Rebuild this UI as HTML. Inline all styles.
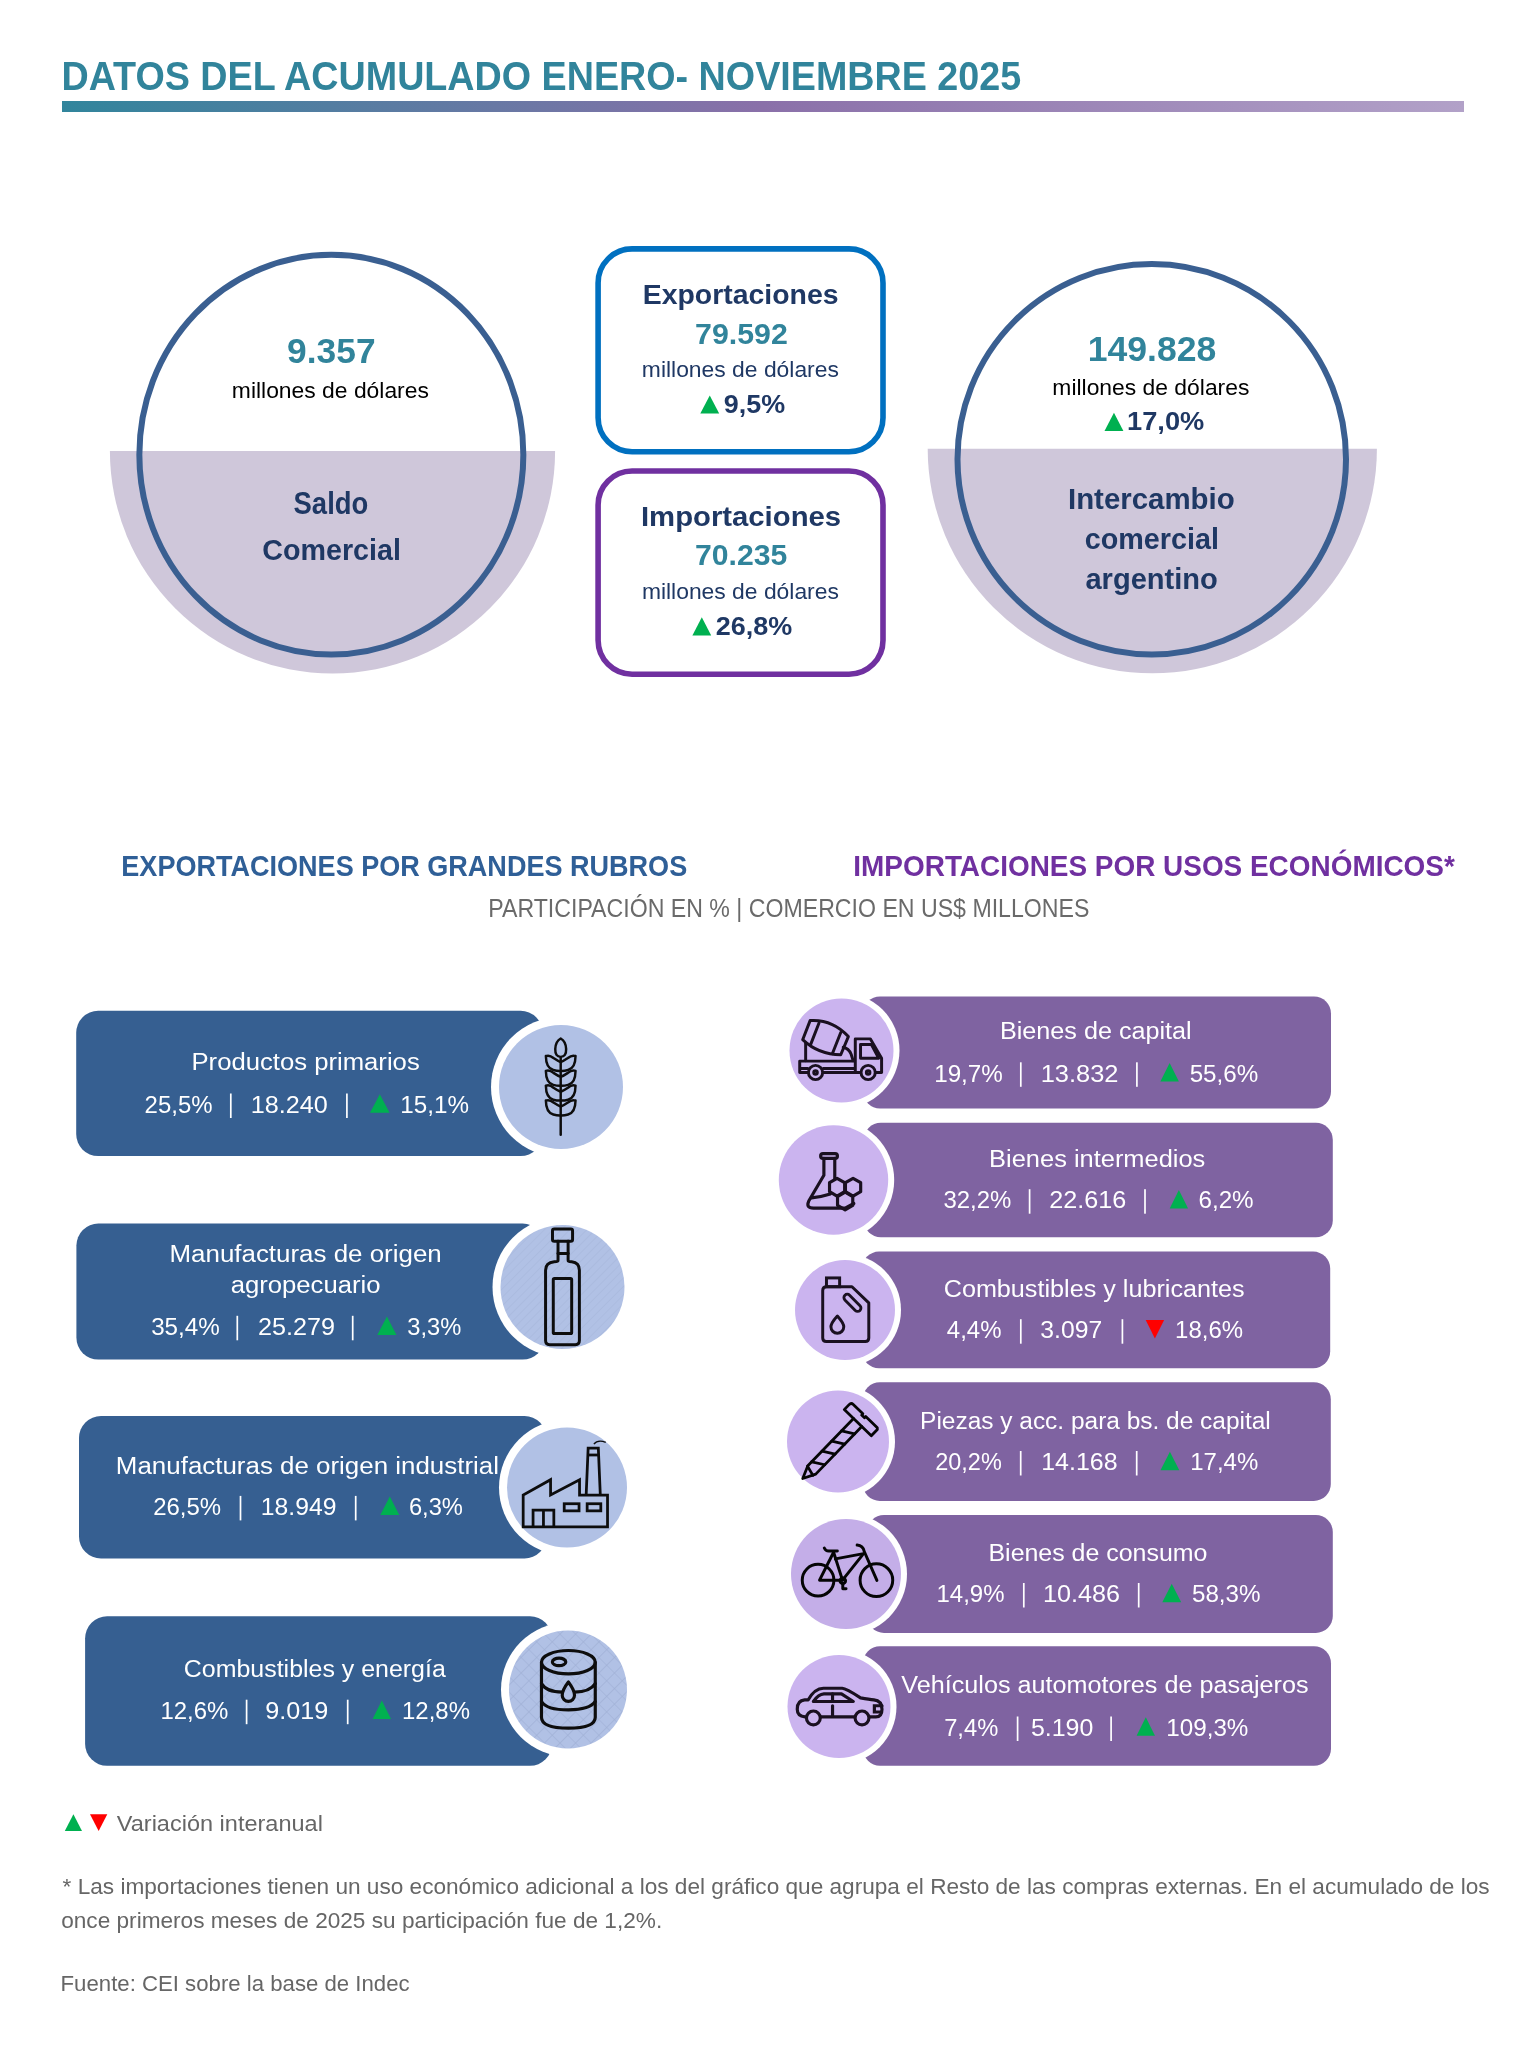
<!DOCTYPE html>
<html><head><meta charset="utf-8"><title>Datos del acumulado enero-noviembre 2025</title>
<style>
html,body{margin:0;padding:0;background:#fff;}
body{width:1517px;height:2046px;overflow:hidden;position:relative;}
svg{position:absolute;left:0;top:0;display:block;will-change:transform;}
text{font-family:"Liberation Sans",sans-serif;white-space:pre;}
</style></head><body>
<svg width="1517" height="2046" viewBox="0 0 1517 2046">
<defs>
<linearGradient id="bar" x1="0" x2="1" y1="0" y2="0">
<stop offset="0" stop-color="#31859C"/><stop offset="0.5" stop-color="#8A70A9"/><stop offset="1" stop-color="#B2A1C8"/>
</linearGradient>
<pattern id="xh" patternUnits="userSpaceOnUse" width="11" height="11" patternTransform="rotate(45)">
<rect width="11" height="11" fill="#B1C1E5"/><path d="M0 0H11M0 0V11" stroke="#9EAED3" stroke-width="1.2"/>
</pattern>
<pattern id="dh" patternUnits="userSpaceOnUse" width="6" height="6" patternTransform="rotate(-45)">
<rect width="6" height="6" fill="#B1C1E5"/><path d="M0 0H6" stroke="#A9B9DD" stroke-width="1.5"/>
</pattern>
</defs>
<rect x="62" y="101" width="1402" height="11" fill="url(#bar)"/>
<!-- left big circle -->
<path d="M109.9 451 A222.6 222.6 0 0 0 555.1 451 Z" fill="#CFC7DA"/>
<ellipse cx="331.35" cy="454.65" rx="192" ry="199.8" fill="none" stroke="#3A5F91" stroke-width="6"/>
<!-- right big circle -->
<path d="M927.7 448.8 A224.6 224.6 0 0 0 1376.9 448.8 Z" fill="#CFC7DA"/>
<ellipse cx="1151.75" cy="459.25" rx="194.25" ry="195.15" fill="none" stroke="#3A5F91" stroke-width="6"/>
<!-- export / import boxes -->
<rect x="598.1" y="248.9" width="284.9" height="202.9" rx="34" ry="34" fill="none" stroke="#0070C0" stroke-width="5.6"/>
<rect x="598.1" y="471" width="284.9" height="203.2" rx="34" ry="34" fill="none" stroke="#7030A0" stroke-width="5.6"/>
<!-- export rows -->
<g fill="#365F91">
<rect x="76.2" y="1010.8" width="466.4" height="145.3" rx="22"/>
<rect x="76.4" y="1223.6" width="468.2" height="136" rx="22"/>
<rect x="79" y="1416" width="467.5" height="142.5" rx="22"/>
<rect x="85.1" y="1616.3" width="466.9" height="149.5" rx="22"/>
</g>
<g fill="#FFFFFF">
<circle cx="561" cy="1087" r="70"/>
<circle cx="562.5" cy="1287" r="70"/>
<circle cx="567" cy="1487.5" r="68"/>
<circle cx="568" cy="1689.5" r="67"/>
</g>
<g fill="#B1C1E5">
<circle cx="561" cy="1087" r="62"/>
<circle cx="567" cy="1487.5" r="60"/>
</g>
<circle cx="568" cy="1689.5" r="59" fill="url(#xh)"/>
<circle cx="562.5" cy="1287" r="62" fill="url(#dh)"/>
<!-- import rows -->
<g fill="#7F63A1">
<rect x="863" y="996.4" width="468" height="112.2" rx="17"/>
<rect x="863.8" y="1122.8" width="469" height="114.4" rx="17"/>
<rect x="862" y="1251.6" width="468.2" height="116.6" rx="17"/>
<rect x="862.8" y="1382.2" width="468" height="118.7" rx="17"/>
<rect x="867" y="1514.9" width="465.8" height="118" rx="17"/>
<rect x="863" y="1646.3" width="468" height="119.5" rx="17"/>
</g>
<g fill="#FFFFFF">
<circle cx="841.5" cy="1050.5" r="58"/>
<circle cx="833.5" cy="1180" r="60.7"/>
<circle cx="845" cy="1310" r="56"/>
<circle cx="838" cy="1441.5" r="57"/>
<circle cx="846" cy="1574" r="61"/>
<circle cx="839" cy="1706.5" r="57.5"/>
</g>
<g fill="#CBB4EF">
<circle cx="841.5" cy="1050.5" r="52"/>
<circle cx="833.5" cy="1180" r="54.7"/>
<circle cx="845" cy="1310" r="50"/>
<circle cx="838" cy="1441.5" r="51"/>
<circle cx="839" cy="1706.5" r="51.5"/>
</g>
<circle cx="846" cy="1574" r="55" fill="#C4AEE8"/>

<g fill="none" stroke="#0D0D0D" stroke-linejoin="round" stroke-linecap="round">
<!-- wheat: region 490,1010 -->
<g transform="translate(490 1010) scale(0.098879)" stroke-width="25">
<line x1="715" y1="480" x2="715" y2="1262"/>
<path d="M715 288 Q768 318 770 395 Q772 474 715 474 Q658 474 660 395 Q662 318 715 288 Z"/>
<path transform="translate(0 0)" d="M565 466 Q602 452 642 486 Q690 518 715 527 M565 466 Q566 588 640 607 Q682 618 715 616 M865 466 Q828 452 788 486 Q740 518 715 527 M865 466 Q864 588 790 607 Q748 618 715 616"/><path transform="translate(0 150)" d="M565 466 Q602 452 642 486 Q690 518 715 527 M565 466 Q566 588 640 607 Q682 618 715 616 M865 466 Q828 452 788 486 Q740 518 715 527 M865 466 Q864 588 790 607 Q748 618 715 616"/><path transform="translate(0 300)" d="M565 466 Q602 452 642 486 Q690 518 715 527 M565 466 Q566 588 640 607 Q682 618 715 616 M865 466 Q828 452 788 486 Q740 518 715 527 M865 466 Q864 588 790 607 Q748 618 715 616"/><path transform="translate(0 450)" d="M565 466 Q602 452 642 486 Q690 518 715 527 M565 466 Q566 588 640 607 Q682 618 715 616 M865 466 Q828 452 788 486 Q740 518 715 527 M865 466 Q864 588 790 607 Q748 618 715 616"/>
</g>
<!-- bottle: region 490,1210 -->
<g transform="translate(490 1210) scale(0.098879)" stroke-width="30">
<rect x="632" y="192" width="203" height="125" rx="18"/>
<path d="M688 317 V510 Q688 522 650 524 Q562 532 562 610 V1320 Q562 1362 604 1362 H862 Q904 1362 904 1320 V610 Q904 532 826 524 Q790 522 790 510 V317"/>
<line x1="688" y1="440" x2="790" y2="440"/>
<rect x="640" y="692" width="186" height="558" rx="12"/>
</g>
<!-- factory: region 495,1410 -->
<g transform="translate(495 1410) scale(0.098879)" stroke-width="28" stroke-linejoin="miter" stroke-linecap="butt">
<path d="M285 1182 V860 L562 705 V860 L855 705 V860 H1138 V1182 Z"/>
<path d="M922 860 L942 385 H1045 L1065 860"/>
<line x1="936" y1="455" x2="1050" y2="455"/>
<path d="M385 1182 V1012 H595 V1182 M490 1012 V1182"/>
<rect x="700" y="948" width="150" height="72"/>
<rect x="932" y="948" width="138" height="72"/>
<path d="M1000 345 Q1040 295 1120 328" stroke-width="14"/>
</g>
<!-- barrel: region 495,1610 -->
<g transform="translate(495 1610) scale(0.098879)" stroke-width="32">
<ellipse cx="742" cy="528" rx="272" ry="118"/>
<path d="M470 528 V1085 Q470 1195 742 1195 Q1014 1195 1014 1085 V528"/>
<path d="M470 745 Q520 830 680 830 M805 830 Q960 830 1014 745"/>
<path d="M470 925 Q520 1010 742 1010 Q960 1010 1014 925"/>
<ellipse cx="648" cy="525" rx="68" ry="38"/>
<path d="M742 728 Q680 810 680 862 A62 62 0 0 0 804 862 Q804 810 742 728 Z"/>
</g>
</g>
<g fill="none" stroke="#1A1020" stroke-linejoin="round" stroke-linecap="round">
<!-- truck: region 775,985 -->
<g transform="translate(775 985) scale(0.098879)" stroke-width="30">
<path d="M280 553 L355 360 Q580 345 742 522 L665 705 Q440 705 280 553 Z"/>
<line x1="445" y1="385" x2="362" y2="598"/>
<line x1="665" y1="480" x2="580" y2="695"/>
<line x1="310" y1="590" x2="310" y2="765"/>
<path d="M690 630 Q745 640 770 700 L790 765"/>
<path d="M812 885 V545 H965 L1078 740 V885 H250 V770 H812"/>
<path d="M265 845 H330 M490 845 H800"/>
<path d="M865 602 H975 L1048 740 H865 Z"/>
<circle cx="410" cy="885" r="72" fill="#CBB4EF"/>
<circle cx="410" cy="885" r="18"/>
<circle cx="942" cy="885" r="72" fill="#CBB4EF"/>
<circle cx="942" cy="885" r="18"/>
</g>
<!-- flask: region 770,1115 -->
<g transform="translate(770 1115) scale(0.098879)" stroke-width="32">
<rect x="512" y="390" width="170" height="48" rx="24"/>
<path d="M545 438 V610 L392 870 Q360 942 440 942 H760 L848 895"/>
<line x1="655" y1="438" x2="655" y2="640"/>
<path d="M420 838 Q520 830 610 800"/>
<path d="M678 640 L755 685 L755 775 L678 820 L602 775 L602 685 Z"/>
<path d="M840 640 L917 685 L917 775 L840 820 L763 775 L763 685 Z"/>
<path d="M760 780 L837 825 L837 915 L760 960 L683 915 L683 825 Z"/>
</g>
<!-- jerrycan: region 780,1245 -->
<g transform="translate(780 1245) scale(0.098879)" stroke-width="30">
<path d="M432 460 Q432 422 472 422 H728 L898 585 V940 Q898 975 862 975 H468 Q432 975 432 940 Z"/>
<rect x="470" y="333" width="133" height="89" stroke-linejoin="miter"/>
<path d="M680 532 L785 638" stroke-width="96"/>
<path d="M680 532 L785 638" stroke="#CBB4EF" stroke-width="38"/>
<path d="M580 718 Q515 790 515 828 A65 65 0 0 0 645 828 Q645 790 580 718 Z"/>
</g>
<!-- screw: region 775,1375 -->
<g transform="translate(775 1375) scale(0.098879)" stroke="#050505" stroke-width="28">
<g transform="matrix(0.7193 0.6947 -0.6947 0.7193 872 446)">
<path d="M-190 -20 Q-190 -50 -160 -50 H-25 V-32 H15 V-50 H178 L190 -38 V50 H-190 Z"/>
<path d="M56 50 V720 L-8 843 L-60 715 V50"/>
<path d="M-60 720 Q-10 735 45 748"/>
<path d="M-60 224 L56 154 M-60 367 L56 297 M-60 508 L56 438 M-60 658 L56 588"/>
</g>
</g>
<!-- bicycle: region 780,1505 (zoom 1517x1416) -->
<g transform="translate(780 1505) scale(0.098879)" stroke="#050505" stroke-width="30">
<circle cx="385" cy="760" r="160"/>
<circle cx="975" cy="760" r="165"/>
<path d="M400 760 L542 478 L632 760 Z"/>
<path d="M560 545 L845 492"/>
<path d="M632 760 L835 505"/>
<path d="M780 405 Q840 410 852 470 L980 762"/>
<path d="M448 435 Q462 466 492 466 H580"/>
<circle cx="635" cy="765" r="28"/>
<path d="M635 795 V848 H668"/>
</g>
<!-- car: region 775,1640 -->
<g transform="translate(775 1640) scale(0.098879)" stroke-width="32">
<path d="M305 778 Q225 770 225 700 Q225 612 300 606 H335 Q400 490 490 488 H680 Q720 490 865 585 Q955 600 1000 605 Q1082 615 1082 700 Q1082 778 1020 778 H960"/>
<line x1="465" y1="778" x2="805" y2="778"/>
<path d="M388 622 Q440 548 495 545 H672 L792 622 Z"/>
<line x1="582" y1="545" x2="582" y2="622"/>
<line x1="582" y1="665" x2="582" y2="770"/>
<circle cx="388" cy="788" r="70"/>
<circle cx="880" cy="788" r="70"/>
<path d="M1082 665 H1005 V728 H1075" stroke-linejoin="miter"/>
</g>
</g>

<rect x="229.95" y="1093.5" width="1.7" height="24.5" fill="#FFFFFF"/>
<rect x="346.05" y="1093.5" width="1.7" height="24.5" fill="#FFFFFF"/>
<rect x="236.45" y="1315.8" width="1.7" height="24.5" fill="#FFFFFF"/>
<rect x="351.85" y="1315.8" width="1.7" height="24.5" fill="#FFFFFF"/>
<rect x="239.65" y="1495.9" width="1.7" height="24.5" fill="#FFFFFF"/>
<rect x="354.85" y="1495.9" width="1.7" height="24.5" fill="#FFFFFF"/>
<rect x="245.75" y="1699.7" width="1.7" height="24.5" fill="#FFFFFF"/>
<rect x="346.85" y="1699.7" width="1.7" height="24.5" fill="#FFFFFF"/>
<rect x="1019.95" y="1062.3" width="1.7" height="24.5" fill="#FFFFFF"/>
<rect x="1136.05" y="1062.3" width="1.7" height="24.5" fill="#FFFFFF"/>
<rect x="1028.75" y="1189.2" width="1.7" height="24.5" fill="#FFFFFF"/>
<rect x="1144.15" y="1189.2" width="1.7" height="24.5" fill="#FFFFFF"/>
<rect x="1019.95" y="1319.2" width="1.7" height="24.5" fill="#FFFFFF"/>
<rect x="1121.55" y="1319.2" width="1.7" height="24.5" fill="#FFFFFF"/>
<rect x="1019.85" y="1451" width="1.7" height="24.5" fill="#FFFFFF"/>
<rect x="1135.85" y="1451" width="1.7" height="24.5" fill="#FFFFFF"/>
<rect x="1022.95" y="1583" width="1.7" height="24.5" fill="#FFFFFF"/>
<rect x="1137.85" y="1583" width="1.7" height="24.5" fill="#FFFFFF"/>
<rect x="1016.75" y="1716.5" width="1.7" height="24.5" fill="#FFFFFF"/>
<rect x="1110.25" y="1716.5" width="1.7" height="24.5" fill="#FFFFFF"/>
<path d="M370 1112.7L389.6 1112.7L379.8 1094.2Z" fill="#00B050"/>
<path d="M377.3 1335L396.5 1335L386.9 1316.5Z" fill="#00B050"/>
<path d="M380.3 1515.1L399.3 1515.1L389.8 1496.6Z" fill="#00B050"/>
<path d="M372.6 1718.9L391 1718.9L381.8 1700.4Z" fill="#00B050"/>
<path d="M1160.4 1081.5L1178.9 1081.5L1169.65 1063Z" fill="#00B050"/>
<path d="M1169.7 1208.4L1188.1 1208.4L1178.9 1189.9Z" fill="#00B050"/>
<path d="M1145.7 1319.9L1164.1 1319.9L1154.9 1338.4Z" fill="#FF0000"/>
<path d="M1160.5 1470.2L1179.3 1470.2L1169.9 1451.7Z" fill="#00B050"/>
<path d="M1162.3 1602.2L1181.2 1602.2L1171.75 1583.7Z" fill="#00B050"/>
<path d="M1136.6 1735.7L1155 1735.7L1145.8 1717.2Z" fill="#00B050"/>
<path d="M700.3 413.6L719.2 413.6L709.75 395.5Z" fill="#00B050"/>
<path d="M692.4 635.5L711.2 635.5L701.8 617.3Z" fill="#00B050"/>
<path d="M1104.5 431L1123.4 431L1113.95 412.8Z" fill="#00B050"/>
<path d="M64.8 1831L82 1831L73.4 1814.2Z" fill="#00B050"/>
<path d="M90 1814.2L107.3 1814.2L98.65 1831Z" fill="#FF0000"/>
<text transform="matrix(0.94 0 0 1 61.45 90.1)" font-size="40.11" fill="#31849B" font-weight="bold">DATOS DEL ACUMULADO ENERO- NOVIEMBRE 2025</text>
<text transform="matrix(0.99 0 0 1 287.1 363.2)" font-size="35.7" fill="#31849B" font-weight="bold">9.357</text>
<text transform="matrix(1.05 0 0 1 231.87 397.9)" font-size="21.79" fill="#000000">millones de dólares</text>
<text transform="matrix(0.9 0 0 1 293.57 513.6)" font-size="30.5" fill="#1F3864" font-weight="bold">Saldo</text>
<text transform="matrix(0.96 0 0 1 262.3 559.8)" font-size="29.87" fill="#1F3864" font-weight="bold">Comercial</text>
<text transform="matrix(1.03 0 0 1 642.72 304.1)" font-size="27.59" fill="#1F3864" font-weight="bold">Exportaciones</text>
<text transform="matrix(1.05 0 0 1 695.06 344)" font-size="28.87" fill="#31849B" font-weight="bold">79.592</text>
<text transform="matrix(1.05 0 0 1 641.87 376.6)" font-size="21.79" fill="#1F3864">millones de dólares</text>
<text transform="matrix(1.04 0 0 1 723.76 412.9)" font-size="25.88" fill="#1F3864" font-weight="bold">9,5%</text>
<text transform="matrix(1.04 0 0 1 640.98 525.5)" font-size="28.16" fill="#1F3864" font-weight="bold">Importaciones</text>
<text transform="matrix(1.04 0 0 1 695.06 565.4)" font-size="29.01" fill="#31849B" font-weight="bold">70.235</text>
<text transform="matrix(1.05 0 0 1 641.88 598.5)" font-size="21.79" fill="#1F3864">millones de dólares</text>
<text transform="matrix(1.02 0 0 1 715.86 635)" font-size="26.45" fill="#1F3864" font-weight="bold">26,8%</text>
<text transform="matrix(1 0 0 1 1087.79 361)" font-size="35.56" fill="#31849B" font-weight="bold">149.828</text>
<text transform="matrix(1.05 0 0 1 1052.36 395.4)" font-size="21.79" fill="#000000">millones de dólares</text>
<text transform="matrix(1.03 0 0 1 1127.09 430.2)" font-size="26.45" fill="#1F3864" font-weight="bold">17,0%</text>
<text transform="matrix(0.98 0 0 1 1067.96 508.6)" font-size="30.01" fill="#1F3864" font-weight="bold">Intercambio</text>
<text transform="matrix(0.96 0 0 1 1084.7 548.8)" font-size="29.96" fill="#1F3864" font-weight="bold">comercial</text>
<text transform="matrix(0.97 0 0 1 1085.44 589)" font-size="29.96" fill="#1F3864" font-weight="bold">argentino</text>
<text transform="matrix(0.91 0 0 1 121.31 875.8)" font-size="29.72" fill="#2F5F97" font-weight="bold">EXPORTACIONES POR GRANDES RUBROS</text>
<text transform="matrix(0.94 0 0 1 853.35 876)" font-size="29.72" fill="#7030A0" font-weight="bold">IMPORTACIONES POR USOS ECONÓMICOS*</text>
<text transform="matrix(0.93 0 0 1 488.29 916.6)" font-size="24.89" fill="#6A6A6A">PARTICIPACIÓN EN % | COMERCIO EN US$ MILLONES</text>
<text transform="matrix(1.05 0 0 1 191.5 1070)" font-size="24.46" fill="#FFFFFF">Productos primarios</text>
<text transform="matrix(0.98 0 0 1 144.58 1112.7)" font-size="24.46" fill="#FFFFFF">25,5%</text>
<text transform="matrix(1.03 0 0 1 250.72 1112.7)" font-size="24.46" fill="#FFFFFF">18.240</text>
<text transform="matrix(0.99 0 0 1 400.29 1112.7)" font-size="24.46" fill="#FFFFFF">15,1%</text>
<text transform="matrix(1.06 0 0 1 169.48 1262.3)" font-size="24.46" fill="#FFFFFF">Manufacturas de origen</text>
<text transform="matrix(1.05 0 0 1 230.7 1292.8)" font-size="24.46" fill="#FFFFFF">agropecuario</text>
<text transform="matrix(0.99 0 0 1 151.15 1335)" font-size="24.46" fill="#FFFFFF">35,4%</text>
<text transform="matrix(1.03 0 0 1 258.02 1335)" font-size="24.46" fill="#FFFFFF">25.279</text>
<text transform="matrix(0.97 0 0 1 407.26 1335)" font-size="24.46" fill="#FFFFFF">3,3%</text>
<text transform="matrix(1.06 0 0 1 115.87 1473.5)" font-size="24.46" fill="#FFFFFF">Manufacturas de origen industrial</text>
<text transform="matrix(0.98 0 0 1 153.17 1515.1)" font-size="24.46" fill="#FFFFFF">26,5%</text>
<text transform="matrix(1.01 0 0 1 260.86 1515.1)" font-size="24.46" fill="#FFFFFF">18.949</text>
<text transform="matrix(0.97 0 0 1 408.88 1515.1)" font-size="24.46" fill="#FFFFFF">6,3%</text>
<text transform="matrix(1.02 0 0 1 183.84 1677.4)" font-size="24.46" fill="#FFFFFF">Combustibles y energía</text>
<text transform="matrix(0.98 0 0 1 160.4 1718.9)" font-size="24.46" fill="#FFFFFF">12,6%</text>
<text transform="matrix(1.03 0 0 1 265.22 1718.9)" font-size="24.46" fill="#FFFFFF">9.019</text>
<text transform="matrix(0.98 0 0 1 402 1718.9)" font-size="24.46" fill="#FFFFFF">12,8%</text>
<text transform="matrix(1.03 0 0 1 999.93 1038.8)" font-size="24.46" fill="#FFFFFF">Bienes de capital</text>
<text transform="matrix(0.99 0 0 1 934.19 1081.5)" font-size="24.46" fill="#FFFFFF">19,7%</text>
<text transform="matrix(1.04 0 0 1 1040.71 1081.5)" font-size="24.46" fill="#FFFFFF">13.832</text>
<text transform="matrix(0.99 0 0 1 1189.65 1081.5)" font-size="24.46" fill="#FFFFFF">55,6%</text>
<text transform="matrix(1.04 0 0 1 989.12 1166.6)" font-size="24.46" fill="#FFFFFF">Bienes intermedios</text>
<text transform="matrix(0.98 0 0 1 943.45 1208.4)" font-size="24.46" fill="#FFFFFF">32,2%</text>
<text transform="matrix(1.03 0 0 1 1049.22 1208.4)" font-size="24.46" fill="#FFFFFF">22.616</text>
<text transform="matrix(0.99 0 0 1 1198.47 1208.4)" font-size="24.46" fill="#FFFFFF">6,2%</text>
<text transform="matrix(1.03 0 0 1 943.71 1296.6)" font-size="24.46" fill="#FFFFFF">Combustibles y lubricantes</text>
<text transform="matrix(0.98 0 0 1 946.83 1338.4)" font-size="24.46" fill="#FFFFFF">4,4%</text>
<text transform="matrix(1.01 0 0 1 1040.33 1338.4)" font-size="24.46" fill="#FFFFFF">3.097</text>
<text transform="matrix(0.98 0 0 1 1175.1 1338.4)" font-size="24.46" fill="#FFFFFF">18,6%</text>
<text transform="matrix(1 0 0 1 920.08 1428.8)" font-size="24.46" fill="#FFFFFF">Piezas y acc. para bs. de capital</text>
<text transform="matrix(0.96 0 0 1 935.19 1470.2)" font-size="24.46" fill="#FFFFFF">20,2%</text>
<text transform="matrix(1.02 0 0 1 1041.24 1470.2)" font-size="24.46" fill="#FFFFFF">14.168</text>
<text transform="matrix(0.98 0 0 1 1190.3 1470.2)" font-size="24.46" fill="#FFFFFF">17,4%</text>
<text transform="matrix(1.02 0 0 1 988.46 1560.7)" font-size="24.46" fill="#FFFFFF">Bienes de consumo</text>
<text transform="matrix(0.98 0 0 1 936.51 1602.2)" font-size="24.46" fill="#FFFFFF">14,9%</text>
<text transform="matrix(1.03 0 0 1 1043.03 1602.2)" font-size="24.46" fill="#FFFFFF">10.486</text>
<text transform="matrix(0.99 0 0 1 1191.95 1602.2)" font-size="24.46" fill="#FFFFFF">58,3%</text>
<text transform="matrix(1.03 0 0 1 901.3 1693.2)" font-size="24.46" fill="#FFFFFF">Vehículos automotores de pasajeros</text>
<text transform="matrix(0.97 0 0 1 944.18 1735.7)" font-size="24.46" fill="#FFFFFF">7,4%</text>
<text transform="matrix(1.02 0 0 1 1030.92 1735.7)" font-size="24.46" fill="#FFFFFF">5.190</text>
<text transform="matrix(0.99 0 0 1 1166.29 1735.7)" font-size="24.46" fill="#FFFFFF">109,3%</text>
<text transform="matrix(1.06 0 0 1 116.8 1831)" font-size="22.19" fill="#666666">Variación interanual</text>
<text transform="matrix(1.04 0 0 1 62.55 1893.6)" font-size="21.76" fill="#666666">* Las importaciones tienen un uso económico adicional a los del gráfico que agrupa el Resto de las compras externas. En el acumulado de los</text>
<text transform="matrix(1.04 0 0 1 61.19 1928.2)" font-size="21.76" fill="#666666">once primeros meses de 2025 su participación fue de 1,2%.</text>
<text transform="matrix(1.02 0 0 1 60.57 1991.3)" font-size="21.76" fill="#666666">Fuente: CEI sobre la base de Indec</text>
</svg>
</body></html>
